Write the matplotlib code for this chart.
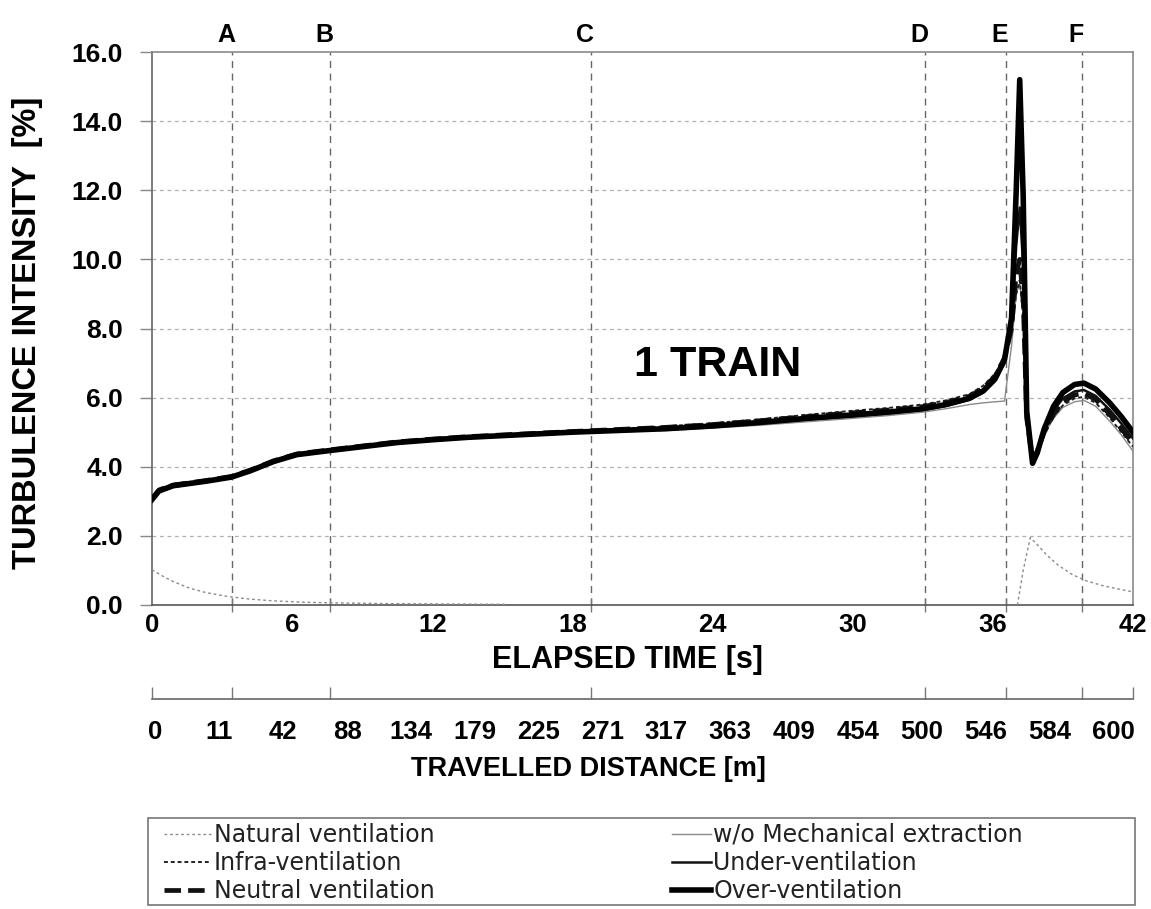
import numpy as np
import matplotlib
matplotlib.use("Agg")
import matplotlib.pyplot as plt
from matplotlib.patches import Rectangle

plt.rcParams['font.family'] = ['Liberation Sans', 'DejaVu Sans']

# ---------------- data ----------------
time_s = [0, 0.3, 0.9, 2.3, 3.4, 4.2, 5.2, 6.2, 7.5, 9.0, 10.5, 12.0, 13.5, 15.0,
          16.5, 18.0, 20.0, 22.0, 24.0, 26.0, 28.0, 30.0, 31.5, 33.0, 34.0, 35.0,
          35.6, 36.1, 36.5, 36.8, 37.0, 37.15, 37.3, 37.45, 37.7, 37.9, 38.2, 38.6,
          39.0, 39.5, 39.9, 40.4, 41.0, 41.5, 42.0]

over_vent = [3.05, 3.30, 3.45, 3.58, 3.70, 3.88, 4.15, 4.35, 4.46, 4.58, 4.70, 4.78,
             4.85, 4.90, 4.95, 5.00, 5.05, 5.10, 5.18, 5.28, 5.40, 5.50, 5.58, 5.68,
             5.80, 5.98, 6.20, 6.55, 7.10, 8.30, 12.0, 15.2, 11.8, 5.6, 4.10, 4.40,
             5.10, 5.75, 6.15, 6.38, 6.42, 6.25, 5.85, 5.45, 5.00]

under_vent = [3.02, 3.27, 3.42, 3.56, 3.68, 3.86, 4.12, 4.33, 4.44, 4.56, 4.68, 4.76,
              4.83, 4.88, 4.93, 4.98, 5.03, 5.08, 5.15, 5.25, 5.36, 5.46, 5.54, 5.64,
              5.76, 5.94, 6.15, 6.48, 7.00, 8.10, 10.4, 11.5, 9.8, 5.5, 4.15, 4.42,
              5.05, 5.62, 5.98, 6.18, 6.22, 6.05, 5.65, 5.25, 4.82]

neutral_vent = [3.08, 3.33, 3.47, 3.60, 3.72, 3.90, 4.17, 4.37, 4.48, 4.60, 4.72, 4.80,
                4.87, 4.92, 4.97, 5.02, 5.08, 5.14, 5.22, 5.33, 5.45, 5.56, 5.64, 5.74,
                5.86, 6.04, 6.28, 6.62, 7.15, 8.00, 9.6, 10.0, 8.8, 5.4, 4.20, 4.45,
                5.00, 5.52, 5.88, 6.08, 6.12, 5.95, 5.52, 5.10, 4.68]

infra_vent = [3.10, 3.35, 3.50, 3.62, 3.74, 3.92, 4.19, 4.39, 4.50, 4.62, 4.74, 4.82,
              4.89, 4.94, 4.99, 5.04, 5.10, 5.17, 5.26, 5.37, 5.50, 5.62, 5.70, 5.80,
              5.92, 6.10, 6.35, 6.70, 7.20, 7.90, 9.0, 9.4, 8.3, 5.3, 4.25, 4.45,
              4.95, 5.45, 5.78, 5.98, 6.02, 5.85, 5.42, 5.00, 4.58]

wo_mech = [3.00, 3.25, 3.40, 3.54, 3.66, 3.84, 4.10, 4.31, 4.42, 4.54, 4.66, 4.74,
           4.81, 4.86, 4.91, 4.96, 5.01, 5.05, 5.12, 5.20, 5.30, 5.40, 5.48, 5.58,
           5.68, 5.80, 5.85, 5.88, 5.90, 7.50, 9.0, 9.3, 8.5, 5.2, 4.30, 4.50,
           4.95, 5.40, 5.72, 5.88, 5.92, 5.75, 5.32, 4.92, 4.45]

nat_time = [0, 0.5, 0.9, 1.6, 2.3, 3.3, 4.2, 5.2, 6.5, 8.0, 10.0, 12.5, 15.1, np.nan,
            37.05, 37.3, 37.6, 37.9, 38.3, 38.8, 39.4, 40.0, 40.7, 41.4, 42.0]
nat_vent = [1.02, 0.82, 0.68, 0.49, 0.36, 0.24, 0.17, 0.12, 0.08, 0.06, 0.04, 0.03, 0.02, np.nan,
            0.0, 1.0, 1.95, 1.75, 1.45, 1.15, 0.88, 0.70, 0.56, 0.46, 0.38]

marker_labels = ['A', 'B', 'C', 'D', 'E', 'F']
marker_times = [3.42, 7.62, 18.8, 33.1, 36.55, 39.8]

time_ticks = [0, 6, 12, 18, 24, 30, 36, 42]
distance_labels = ['0', '11', '42', '88', '134', '179', '225', '271', '317', '363',
                   '409', '454', '500', '546', '584', '600']
y_ticks = [0, 2, 4, 6, 8, 10, 12, 14, 16]

# ---------------- figure ----------------
W, H = 1151, 909
fig = plt.figure(figsize=(W / 100, H / 100), dpi=100)

def fx(px):
    return px / W

def fy(py):
    return 1 - py / H

ax_l, ax_r, ax_t, ax_b = 152, 1133, 52, 605
ax = fig.add_axes([fx(ax_l), fy(ax_b), fx(ax_r - ax_l), (ax_b - ax_t) / H])
ax.set_xlim(0, 42)
ax.set_ylim(0, 16)

for s in ax.spines.values():
    s.set_color('#8a8a8a')
    s.set_linewidth(1.2)
ax.spines['bottom'].set_color('#555555')
ax.spines['left'].set_color('#666666')

# gridlines
for yv in y_ticks[1:-1]:
    ax.axhline(yv, color='#b0b0b0', lw=0.9, ls=(0, (3, 3)), zorder=0)

# marker lines
for mt in marker_times:
    ax.axvline(mt, color='#666666', lw=1.0, ls=(0, (5, 4)), zorder=1)
for lab, mt in zip(marker_labels, marker_times):
    fig.text(fx(ax_l + (mt / 42) * (ax_r - ax_l) - 6), fy(35), lab, fontsize=18,
             fontweight='bold', ha='center', va='center')

# series
l_nat, = ax.plot(nat_time, nat_vent, color='#8c8c8c', lw=1.0, ls=(0, (2, 2)),
                 label='Natural ventilation', zorder=3)
l_wo, = ax.plot(time_s, wo_mech, color='#8a8a8a', lw=1.0, ls='-',
                label='w/o Mechanical extraction', zorder=3)
l_inf, = ax.plot(time_s, infra_vent, color='#222222', lw=1.4, ls=(0, (2, 1.5)),
                 label='Infra-ventilation', zorder=4)
l_und, = ax.plot(time_s, under_vent, color='#111111', lw=1.8, ls='-',
                 label='Under-ventilation', zorder=4)
l_neu, = ax.plot(time_s, neutral_vent, color='#111111', lw=3.4, ls=(0, (3.5, 1.5)),
                 label='Neutral ventilation', zorder=5)
l_ovr, = ax.plot(time_s, over_vent, color='#000000', lw=4.0, ls='-',
                 label='Over-ventilation', zorder=6)

# ticks
ax.set_yticks(y_ticks)
ax.set_yticklabels([f'{v:.1f}' for v in y_ticks], fontsize=19, fontweight='bold')
ax.tick_params(axis='y', which='major', direction='out', length=9, width=1,
               color='#888888', pad=12)
ax.set_xticks(time_ticks)
ax.set_xticklabels([str(v) for v in time_ticks], fontsize=18.5, fontweight='bold')
ax.set_xticks(marker_times, minor=True)
ax.tick_params(axis='x', which='major', length=0, pad=6)
ax.tick_params(axis='x', which='minor', direction='inout', length=10, width=1,
               color='#777777')

ax.text(24.2, 6.95, '1 TRAIN', fontsize=31, fontweight='bold', ha='center', va='center')

fig.text(fx(627), fy(660), 'ELAPSED TIME [s]', fontsize=22, fontweight='bold',
         ha='center', va='center')
fig.text(fx(28), fy(333), 'TURBULENCE INTENSITY  [%]', fontsize=23.5, fontweight='bold',
         ha='center', va='center', rotation=90)

# secondary distance axis
sec_y = 699
ax2 = fig.add_axes([fx(ax_l), fy(sec_y), fx(ax_r - ax_l), 0.0001])
ax2.set_xlim(0, 42)
ax2.set_ylim(0, 1)
for k in ['top', 'left', 'right']:
    ax2.spines[k].set_visible(False)
ax2.spines['bottom'].set_color('#666666')
ax2.spines['bottom'].set_linewidth(1.2)
ax2.set_yticks([])
ax2.set_xticks(np.linspace(0.15, 41.15, len(distance_labels)))
ax2.set_xticklabels(distance_labels, fontsize=18.5, fontweight='bold')
ax2.set_xticks([0] + marker_times + [42], minor=True)
ax2.tick_params(axis='x', which='major', length=0, pad=15)
ax2.tick_params(axis='x', which='minor', direction='in', length=9, width=1,
                color='#777777')
ax2.patch.set_visible(False)

fig.text(fx(588), fy(769), 'TRAVELLED DISTANCE [m]', fontsize=19.5, fontweight='bold',
         ha='center', va='center')

# legend
fig.patches.append(Rectangle((fx(148), fy(905)), fx(1135 - 148), (905 - 818) / H,
                             transform=fig.transFigure, fill=False,
                             edgecolor='#777777', lw=1.2))
leg_kw = dict(loc='upper left', frameon=False, handletextpad=0.1,
              labelspacing=0.18, borderpad=0.0, borderaxespad=0.0,
              prop={'family': 'DejaVu Sans', 'size': 17})
leg1 = fig.legend(handles=[l_nat, l_inf, l_neu], bbox_to_anchor=(fx(164), fy(823)),
                  handlelength=2.0, **leg_kw)
leg2 = fig.legend(handles=[l_wo, l_und, l_ovr], bbox_to_anchor=(fx(672), fy(823)),
                  handlelength=1.65, **leg_kw)
for lg in (leg1, leg2):
    for t in lg.get_texts():
        t.set_color('#222222')

fig.savefig('out.png', dpi=100)
